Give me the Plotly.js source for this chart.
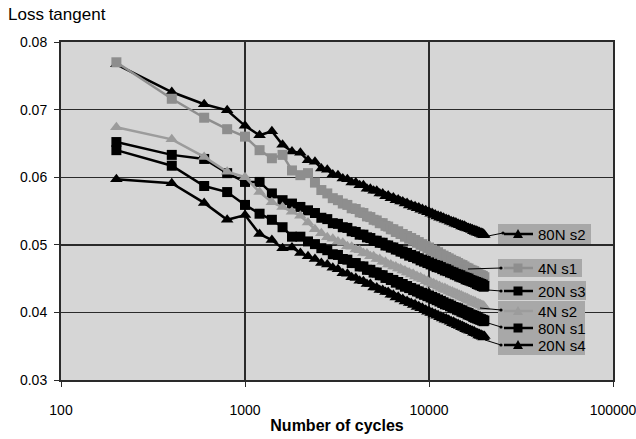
<!DOCTYPE html>
<html>
<head>
<meta charset="utf-8">
<script src="https://cdn.plot.ly/plotly-3.0.1.min.js"></script>
<style>html,body{margin:0;padding:0;background:#fff;}#chart{width:636px;height:439px;}</style>
</head>
<body>
<div id="chart"></div>
<script>
const cycles = [200,400,600,800,1000,1200,1400,1600,1800,2000,
2200,2400,2600,2800,3000,3200,3400,3600,3800,4000,
4200,4400,4600,4800,5000,5200,5400,5600,5800,6000,
6200,6400,6600,6800,7000,7200,7400,7600,7800,8000,
8200,8400,8600,8800,9000,9200,9400,9600,9800,10000,
10200,10400,10600,10800,11000,11200,11400,11600,11800,12000,
12200,12400,12600,12800,13000,13200,13400,13600,13800,14000,
14200,14400,14600,14800,15000,15200,15400,15600,15800,16000,
16200,16400,16600,16800,17000,17200,17400,17600,17800,18000,
18200,18400,18600,18800,19000,19200,19400,19600,19800,20000];

const s80Ns2 = [.0767,.0726,.0708,.0699,.0676,.0662,.0668,.0648,.0638,
.0636,.0625,.0623,.0613,.0611,.0604,
.0603,.0598,.0597,.0592,.0592,.0588,.0588,.0583,.0583,.0580,.0580,.0576,.0576,.0572,.0573,
.0569,.0570,.0566,.0567,.0564,.0564,.0561,.0562,.0558,.0559,.0556,.0557,.0554,.0555,.0552,
.0553,.0550,.0551,.0548,.0549,.0546,.0547,.0544,.0545,.0542,.0543,.0540,.0542,.0539,.0540,
.0537,.0538,.0536,.0537,.0534,.0535,.0533,.0534,.0531,.0533,.0530,.0531,.0529,.0530,.0527,
.0529,.0526,.0528,.0525,.0526,.0524,.0525,.0523,.0524,.0522,.0523,.0520,.0522,.0519,.0521,
.0518,.0520,.0517,.0519,.0516,.0518,.0515,.0517,.0514,.0515];

const s4Ns1 = [.0770,.0716,.0688,.0671,.0660,.0640,.0628,.0633,.0610,
.0603,.0606,.0592,.0581,.0576,.0569,
.0566,.0561,.0559,.0554,.0553,.0548,.0547,.0542,.0541,.0537,.0536,.0532,.0532,.0528,.0527,
.0523,.0523,.0519,.0520,.0516,.0516,.0512,.0513,.0509,.0510,.0506,.0507,.0503,.0504,.0500,
.0501,.0498,.0498,.0495,.0496,.0492,.0493,.0490,.0491,.0488,.0489,.0485,.0486,.0483,.0484,
.0481,.0482,.0479,.0480,.0477,.0478,.0475,.0476,.0474,.0475,.0472,.0473,.0470,.0471,.0468,
.0470,.0467,.0468,.0465,.0466,.0464,.0465,.0462,.0463,.0461,.0462,.0459,.0461,.0458,.0459,
.0456,.0458,.0455,.0456,.0454,.0455,.0452,.0454,.0451,.0452];

const s20Ns3 = [.0652,.0633,.0627,.0606,.0593,.0593,.0576,.0566,.0561,
.0556,.0551,.0547,.0540,.0538,.0532,
.0531,.0526,.0525,.0520,.0519,.0515,.0515,.0511,.0510,.0506,.0506,.0503,.0503,.0499,.0499,
.0496,.0496,.0493,.0493,.0490,.0490,.0487,.0488,.0484,.0485,.0482,.0483,.0480,.0480,.0477,
.0478,.0475,.0476,.0473,.0474,.0471,.0472,.0469,.0470,.0467,.0469,.0466,.0467,.0464,.0465,
.0462,.0464,.0461,.0462,.0459,.0460,.0458,.0459,.0456,.0457,.0455,.0456,.0453,.0455,.0452,
.0453,.0451,.0452,.0449,.0451,.0448,.0450,.0447,.0448,.0446,.0447,.0445,.0446,.0444,.0445,
.0442,.0444,.0441,.0443,.0440,.0442,.0439,.0441,.0438,.0439];

const s4Ns2 = [.0674,.0656,.0630,.0608,.0600,.0578,.0563,.0556,.0549,
.0543,.0533,.0523,.0517,.0511,.0509,
.0505,.0503,.0498,.0497,.0493,.0492,.0488,.0487,.0483,.0483,.0479,.0479,.0475,.0475,.0471,
.0471,.0468,.0468,.0465,.0465,.0462,.0462,.0459,.0459,.0456,.0457,.0453,.0454,.0451,.0452,
.0449,.0449,.0446,.0447,.0444,.0445,.0442,.0443,.0440,.0441,.0438,.0439,.0436,.0437,.0434,
.0436,.0433,.0434,.0431,.0432,.0429,.0431,.0428,.0429,.0426,.0428,.0425,.0426,.0423,.0425,
.0422,.0423,.0421,.0422,.0419,.0421,.0418,.0419,.0417,.0418,.0415,.0417,.0414,.0416,.0413,
.0414,.0412,.0413,.0411,.0412,.0410,.0411,.0408,.0410,.0408];

const s80Ns1 = [.0640,.0617,.0587,.0578,.0559,.0546,.0537,.0526,.0512,
.0512,.0505,.0501,.0495,.0492,.0486,
.0485,.0479,.0478,.0473,.0473,.0468,.0468,.0463,.0463,.0459,.0459,.0455,.0455,.0451,.0451,
.0448,.0448,.0444,.0445,.0441,.0442,.0438,.0439,.0436,.0436,.0433,.0434,.0431,.0431,.0428,
.0429,.0426,.0427,.0424,.0425,.0422,.0423,.0420,.0421,.0418,.0419,.0416,.0417,.0414,.0415,
.0412,.0413,.0411,.0412,.0409,.0410,.0407,.0408,.0406,.0407,.0404,.0406,.0403,.0404,.0401,
.0403,.0400,.0401,.0399,.0400,.0397,.0399,.0396,.0397,.0395,.0396,.0393,.0395,.0392,.0394,
.0391,.0393,.0390,.0391,.0389,.0390,.0388,.0389,.0387,.0388];

const s20Ns4 = [.0597,.0591,.0562,.0537,.0544,.0516,.0507,.0495,.0496,
.0488,.0483,.0479,.0473,.0471,.0466,
.0464,.0458,.0457,.0452,.0451,.0447,.0446,.0442,.0442,.0437,.0437,.0433,.0433,.0430,.0430,
.0426,.0426,.0422,.0423,.0419,.0420,.0416,.0417,.0414,.0414,.0411,.0412,.0408,.0409,.0406,
.0407,.0403,.0404,.0401,.0402,.0399,.0400,.0397,.0398,.0395,.0396,.0393,.0394,.0391,.0392,
.0389,.0391,.0388,.0389,.0386,.0387,.0384,.0386,.0383,.0384,.0381,.0383,.0380,.0381,.0378,
.0380,.0377,.0378,.0375,.0377,.0374,.0375,.0373,.0374,.0372,.0373,.0370,.0372,.0369,.0370,
.0368,.0369,.0366,.0368,.0365,.0367,.0364,.0366,.0363,.0365];

const seriesNames = ['80N s2','4N s1','20N s3','4N s2','80N s1','20N s4'];
const seriesValues = [s80Ns2, s4Ns1, s20Ns3, s4Ns2, s80Ns1, s20Ns4];
const xTickVals = [100, 1000, 10000, 100000];
const xTickText = ['100', '1000', '10000', '100000'];

const styles = [
  {color:'#000000', symbol:'triangle-up', size:11},
  {color:'#8e8e8e', symbol:'square', size:10},
  {color:'#000000', symbol:'square', size:10},
  {color:'#9c9c9c', symbol:'triangle-up', size:11},
  {color:'#000000', symbol:'square', size:10},
  {color:'#000000', symbol:'triangle-up', size:11}
];
const FONT = 'Liberation Sans, Arial, sans-serif';

const traces = seriesNames.map((name, k) => ({
  type:'scatter', mode:'lines+markers', name:name,
  x:cycles, y:seriesValues[k],
  line:{color:styles[k].color, width:2.5},
  marker:{color:styles[k].color, symbol:styles[k].symbol, size:styles[k].size},
  showlegend:false
}));

// ---- label-box decoration (pixel -> paper helpers) ----
const px = x => (x - 61) / 552;
const py = y => (380 - y) / 338;
const boxes = [[498,224,591,244],[498,259,582,277],[498,281,586,300],[498,301,585,355]];
const labelY = [234, 268, 291, 311, 328, 345];
const leaders = [
  [488,236,503,233],
  [468,269,501,268],
  [488,290,501,291],
  [480,308,501,310],
  [488,323,501,327],
  [485,340,501,345]
];
const shapes = [];
boxes.forEach(b => shapes.push({type:'rect', xref:'paper', yref:'paper', layer:'above',
  x0:px(b[0]), x1:px(b[2]), y0:py(b[3]), y1:py(b[1]), fillcolor:'#a8a8a8', line:{width:0}}));
leaders.forEach(l => {
  shapes.push({type:'line', xref:'paper', yref:'paper', x0:px(l[0]), y0:py(l[1]), x1:px(l[2]), y1:py(l[3]), line:{color:'#000', width:1}});
  shapes.push({type:'circle', xref:'paper', yref:'paper', x0:px(l[2]-1.6), y0:py(l[3]+1.6), x1:px(l[2]+1.6), y1:py(l[3]-1.6), fillcolor:'#000', line:{width:0}});
});
labelY.forEach((yy, k) => {
  const c = styles[k].color;
  shapes.push({type:'line', xref:'paper', yref:'paper', x0:px(504), x1:px(533), y0:py(yy), y1:py(yy), line:{color:c, width:2.5}});
  const cx = 518;
  if (styles[k].symbol === 'square') {
    shapes.push({type:'rect', xref:'paper', yref:'paper', x0:px(cx-4.5), x1:px(cx+4.5), y0:py(yy+4.5), y1:py(yy-4.5), fillcolor:c, line:{width:0}});
  } else {
    const p = 'M' + px(cx-5) + ',' + py(yy+4) + ' L' + px(cx+5) + ',' + py(yy+4) + ' L' + px(cx) + ',' + py(yy-5) + ' Z';
    shapes.push({type:'path', xref:'paper', yref:'paper', path:p, fillcolor:c, line:{width:0}});
  }
});
const annotations = seriesNames.map((name, k) => ({
  text:name, xref:'paper', yref:'paper', x:px(536), y:py(labelY[k]), xanchor:'left', yanchor:'middle',
  showarrow:false, font:{family:FONT, size:15, color:'#000'}
}));

const layout = {
  width:636, height:439,
  margin:{l:61, r:23, t:42, b:59},
  paper_bgcolor:'#ffffff', plot_bgcolor:'#d6d6d6',
  font:{family:FONT, size:14, color:'#000'},
  title:{text:'Loss tangent', x:8/636, xanchor:'left', xref:'container', y:1-14/439, yanchor:'middle', yref:'container', font:{family:FONT, size:17, color:'#000'}},
  xaxis:{type:'log', range:[2,5], tickvals:xTickVals, ticktext:xTickText,
    showgrid:true, gridcolor:'#2a2a2a', gridwidth:1.4,
    showline:true, linecolor:'#2a2a2a', linewidth:2, mirror:true,
    ticks:'outside', ticklen:5, tickcolor:'#2a2a2a', ticklabelstandoff:11,
    ticklabeloverflow:'allow',
    tickfont:{family:FONT, size:14},
    title:{text:'<b>Number of cycles</b>', font:{family:FONT, size:16}, standoff:3},
    zeroline:false, automargin:false},
  yaxis:{range:[0.03,0.08], dtick:0.01, tick0:0.03, tickformat:'.2f',
    showgrid:true, gridcolor:'#2a2a2a', gridwidth:1.4,
    showline:true, linecolor:'#2a2a2a', linewidth:2, mirror:true,
    ticks:'outside', ticklen:5, tickcolor:'#2a2a2a', ticklabelstandoff:4,
    tickfont:{family:FONT, size:14},
    zeroline:false, automargin:false},
  shapes:shapes,
  annotations:annotations,
  showlegend:false
};

Plotly.newPlot('chart', traces, layout, {staticPlot:true, displayModeBar:false});
</script>
</body>
</html>
